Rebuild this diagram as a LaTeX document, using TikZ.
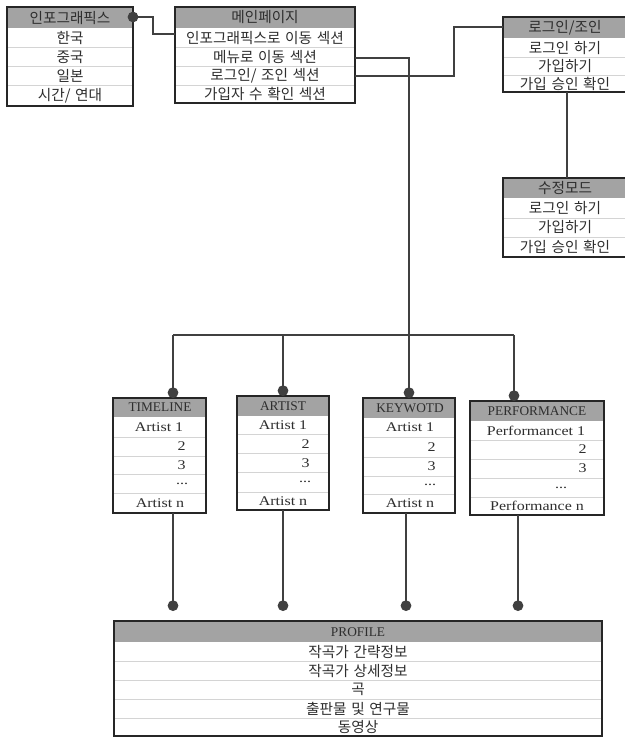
\documentclass[tikz,border=0pt]{standalone}
\usepackage{fontspec}
\setmainfont{Liberation Serif}
\newfontfamily\kr{Noto Sans CJK KR}[WordSpace=1.4]
\newfontfamily\rowfont{Liberation Serif}[FakeStretch=1.2]
\usetikzlibrary{fit,calc,arrows.meta}
\definecolor{hdrgray}{HTML}{A3A3A3}
\definecolor{txtgray}{HTML}{2E2E2E}
\tikzset{
  x=0.75pt, y=-0.75pt,
  frame/.style={draw=black!85, line width=1.5pt, inner sep=0pt, outer sep=0pt},
  rowline/.style={draw=black!17, line width=0.6pt},
  conn/.style={draw=black!75, line width=0.8pt},
  dotend/.style={conn, -{Circle[length=8pt]}},
  kt/.style={font=\kr\fontsize{11}{13}\selectfont, text=txtgray, inner sep=0pt},
  lt/.style={font=\fontsize{10}{12}\selectfont, text=txtgray, inner sep=0pt},
  rt/.style={font=\rowfont\fontsize{10}{12}\selectfont, text=txtgray, inner sep=0pt},
}
\newcommand\mktbl[7]{%
  \fill[hdrgray] (#2,#3) rectangle (#4,#6);
  \foreach \yy in {#7} \draw[rowline] (#2,\yy) -- (#4,\yy);
  \node[frame, fit={(#2,#3)(#4,#5)}] (#1) {};
}
\begin{document}
\begin{tikzpicture}
\useasboundingbox (0,0) rectangle (624,737);
\fill[white] (0,0) rectangle (624,737);

% tables
\mktbl{info}{7}{7}{133}{106}{28}{47,66,85}
\mktbl{main}{175}{7}{355}{103}{28}{47,66,85}
\mktbl{login}{503}{17}{628}{92}{38}{57,75}
\mktbl{mode}{503}{178}{628}{257}{198}{218,237}
\mktbl{tl}{113}{398}{206}{513}{417}{437,456,474,493}
\mktbl{ar}{237}{396}{329}{510}{416}{434,453,472,492}
\mktbl{kw}{363}{398}{455}{513}{418}{437,457,476,494}
\mktbl{pf}{470}{401}{604}{515}{421}{440,459,478,497}
\mktbl{prof}{114}{621}{602}{736}{642}{661,680,699,718}

% texts: info
\node[kt] (info-h) at (70,18) {인포그래픽스};
\node[kt] (info-1) at (70,38) {한국};
\node[kt] (info-2) at (70,57) {중국};
\node[kt] (info-3) at (70,76) {일본};
\node[kt] (info-4) at (70,96) {시간/ 연대};
% main
\node[kt] (main-h) at (265,17.5) {메인페이지};
\node[kt] (main-1) at (265,38) {인포그래픽스로 이동 섹션};
\node[kt] (main-2) at (265,57) {메뉴로 이동 섹션};
\node[kt] (main-3) at (265,76) {로그인/ 조인 섹션};
\node[kt] (main-4) at (265,94) {가입자 수 확인 섹션};
% login
\node[kt] (login-h) at (565,28) {로그인/조인};
\node[kt] (login-1) at (565,48) {로그인 하기};
\node[kt] (login-2) at (565,66) {가입하기};
\node[kt] (login-3) at (565,83.5) {가입 승인 확인};
% mode
\node[kt] (mode-h) at (565,188) {수정모드};
\node[kt] (mode-1) at (565,208) {로그인 하기};
\node[kt] (mode-2) at (565,227.5) {가입하기};
\node[kt] (mode-3) at (565,247) {가입 승인 확인};
% timeline
\node[lt] (tl-h) at (160,407.5) {TIMELINE};
\node[rt] (tl-1) at (159,427) {Artist 1};
\node[rt, anchor=east] (tl-2) at (186,446) {2};
\node[rt, anchor=east] (tl-3) at (186,465) {3};
\node[rt] (tl-4) at (182,484) {...};
\node[rt] (tl-5) at (160,503) {Artist n};
% artist
\node[lt] (ar-h) at (283,406) {ARTIST};
\node[rt] (ar-1) at (283,425) {Artist 1};
\node[rt, anchor=east] (ar-2) at (310,444) {2};
\node[rt, anchor=east] (ar-3) at (310,463) {3};
\node[rt] (ar-4) at (305,482) {...};
\node[rt] (ar-5) at (283,501) {Artist n};
% keywotd
\node[lt] (kw-h) at (410,408) {KEYWOTD};
\node[rt] (kw-1) at (410,427.5) {Artist 1};
\node[rt, anchor=east] (kw-2) at (436,447) {2};
\node[rt, anchor=east] (kw-3) at (436,466.5) {3};
\node[rt] (kw-4) at (430,485) {...};
\node[rt] (kw-5) at (410,503.5) {Artist n};
% performance
\node[lt] (pf-h) at (537,411) {PERFORMANCE};
\node[rt] (pf-1) at (536,430.5) {Performancet 1};
\node[rt, anchor=east] (pf-2) at (587,449.5) {2};
\node[rt, anchor=east] (pf-3) at (587,468.5) {3};
\node[rt] (pf-4) at (561,487.5) {...};
\node[rt] (pf-5) at (537,506) {Performance n};
% profile
\node[lt] (prof-h) at (358,632) {PROFILE};
\node[kt] (prof-1) at (358,651.5) {작곡가 간략정보};
\node[kt] (prof-2) at (358,670.5) {작곡가 상세정보};
\node[kt] (prof-3) at (358,689.5) {곡};
\node[kt] (prof-4) at (358,708.5) {출판물 및 연구물};
\node[kt] (prof-5) at (358,727) {동영상};

% connectors
\draw[conn, {Circle[length=8pt]}-, shorten <=-4pt] ($(info.north east)+(0,10)$) -- ++(20,0) |- ($(main.north west)+(0,27)$);
\draw[conn] ($(main.north east)+(0,69)$) -- ++(99,0) |- ($(login.north west)+(0,10)$);
\draw[conn] ($(login.south west)+(64,0)$) -- ($(mode.north west)+(64,0)$);
\draw[dotend] ($(main.north east)+(0,51)$) -| (kw.north);
\coordinate (busL) at (173,335);
\coordinate (busR) at (514,335);
\draw[conn] (busL) -- (busR);
\draw[dotend] (busL) -- (busL |- tl.north);
\draw[dotend] (busL -| ar.north) -- (ar.north);
\draw[dotend] (busR) -- (busR |- pf.north);
\draw[dotend] (busL |- tl.south) -- ($(busL |- prof.north)+(0,-10)$);
\draw[dotend] (ar.south) -- ($(ar.south |- prof.north)+(0,-10)$);
\draw[dotend] ($(kw.south)+(-3,0)$) -- ($(kw.south |- prof.north)+(-3,-10)$);
\draw[dotend] ($(pf.south)+(-19,0)$) -- ($(pf.south |- prof.north)+(-19,-10)$);
\end{tikzpicture}
\end{document}
